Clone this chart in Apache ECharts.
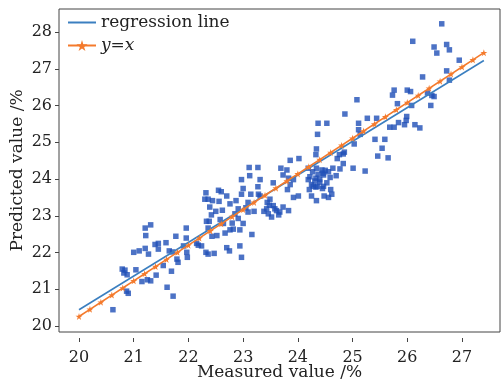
<!DOCTYPE html>
<html>
<head>
<meta charset="utf-8">
<script src="https://cdn.jsdelivr.net/npm/echarts@6/dist/echarts.min.js"></script>
<style>html,body{margin:0;padding:0;background:#fff;}#c{width:502px;height:386px;}</style>
</head>
<body>
<div id="c"></div>
<script>
// Scatter: measured (x) vs predicted (y)
var measured = [
20.62,20.79,20.82,20.88,20.84,20.87,20.90,21.04,21.15,21.25,21.31,21.41,21.54,21.61,21.72,21.00,21.10,21.21,21.27,21.21,21.31,21.22,21.39,21.45,21.45,21.59,21.65,21.71,21.77,21.79,21.81,21.69,
21.91,21.96,21.96,21.97,21.98,22.15,22.18,22.24,22.32,22.30,22.36,22.44,22.39,22.50,22.33,22.38,22.36,22.43,22.32,22.36,22.47,22.55,22.52,22.64,22.67,22.76,22.70,22.75,22.94,22.97,22.60,22.70,22.56,22.76,22.87,22.91,22.85,22.91,23.00,22.82,22.94,23.16,22.97,23.00,22.97,23.09,23.09,23.27,23.14,23.28,23.11,23.27,23.12,23.31,23.31,23.44,23.49,23.55,23.43,23.46,23.52,23.61,23.67,23.73,23.83,23.81,23.92,24.01,23.69,23.80,23.86,24.02,23.92,23.86,
24.37,24.53,24.36,24.34,24.33,24.19,24.27,24.34,24.44,24.37,24.47,24.56,24.64,24.19,24.25,24.28,24.33,24.40,24.47,24.53,24.62,24.48,24.21,24.33,24.60,24.25,24.34,24.56,24.59,24.77,24.76,24.85,24.83,25.01,25.23,24.72,24.83,25.03,24.86,25.08,25.11,25.27,25.44,25.11,25.14,25.41,25.59,25.54,25.46,25.65,23.55,23.73,23.83,
25.68,25.76,25.84,25.95,26.14,26.23,25.99,25.98,25.82,26.08,26.43,25.76,25.73,26.00,26.06,26.37,26.45,26.49,26.28,26.72,26.77,26.95,26.72,26.77,26.49,26.54,26.10,26.63,
22.42,22.58,22.62,22.80,23.05,23.20,23.38,23.58,23.65,23.48,24.40,24.45,24.36,24.22,24.46,24.31,24.50,24.70
];
var predicted = [
20.19,21.33,21.22,21.17,21.30,20.71,20.65,21.31,20.98,21.03,21.00,21.16,21.43,20.82,20.57,21.80,21.84,21.91,21.75,22.48,22.57,22.27,22.02,22.05,21.89,22.07,21.84,21.81,22.25,21.61,21.52,21.27,
21.98,22.48,22.20,21.80,21.66,22.05,22.00,21.98,23.47,23.29,23.29,23.25,23.07,22.95,22.67,22.67,22.48,22.25,21.80,21.75,21.77,23.54,22.27,22.61,22.34,22.43,21.93,21.84,21.98,21.66,23.50,23.38,23.23,23.16,23.25,23.02,22.88,22.75,22.61,22.45,22.43,22.30,23.84,23.59,23.43,23.20,22.93,23.64,23.43,23.43,24.18,24.18,23.95,23.84,23.38,23.20,23.29,23.11,23.02,22.88,22.79,22.97,22.93,23.07,22.97,23.56,23.34,23.38,24.16,24.11,24.38,24.43,23.84,23.70,
25.42,25.42,25.11,24.70,24.54,24.16,24.06,24.16,24.11,23.99,23.97,24.06,24.16,23.84,23.70,23.65,23.88,23.84,23.65,23.75,23.43,23.38,23.56,23.63,23.56,23.38,23.25,23.34,23.90,24.14,24.54,24.61,24.29,24.16,24.08,24.43,24.56,24.84,25.68,26.08,25.42,25.56,25.56,25.24,25.11,24.97,24.97,24.72,24.50,24.45,23.75,23.97,23.88,
25.31,25.31,25.44,25.38,25.38,25.29,25.61,25.50,25.97,25.92,25.92,26.35,26.21,26.35,26.31,26.27,26.20,26.17,26.72,26.89,26.63,27.19,27.63,27.48,27.56,27.39,27.72,28.21,
22.85,22.72,22.98,22.62,23.05,22.95,22.95,23.02,22.85,23.12,23.77,23.59,23.65,23.92,24.02,23.80,24.10,23.95
];
// Regression line end points
var regX = [20, 27.4];
var regY = [20.19, 27.18];
// y = x reference line marker positions
var refX = [20,20.2,20.4,20.6,20.8,21,21.2,21.4,21.6,21.8,22,22.2,22.4,22.6,22.8,23,23.2,23.4,23.6,23.8,24,24.2,24.4,24.6,24.8,25,25.2,25.4,25.6,25.8,26,26.2,26.4,26.6,26.8,27,27.2,27.4];
var refY = [20,20.2,20.4,20.6,20.8,21,21.2,21.4,21.6,21.8,22,22.2,22.4,22.6,22.8,23,23.2,23.4,23.6,23.8,24,24.2,24.4,24.6,24.8,25,25.2,25.4,25.6,25.8,26,26.2,26.4,26.6,26.8,27,27.2,27.4];
// Tick labels
var xTicks = [20,21,22,23,24,25,26,27];
var yTicks = [20,21,22,23,24,25,26,27,28];

var FONT = 'DejaVu Serif';
var TXT = '#222';
var scatterData = measured.map(function(v,i){return [v, predicted[i]];});
var regData = regX.map(function(v,i){return [v, regY[i]];});
var refData = refX.map(function(v,i){return [v, refY[i]];});

var chart = echarts.init(document.getElementById('c'), null, {renderer:'canvas'});
chart.setOption({
  animation:false,
  backgroundColor:'#fff',
  grid:[
    {left:59, right:2, top:9, bottom:44, show:true, borderColor:'#444', borderWidth:1, backgroundColor:'transparent'},
    {left:79, right:40, top:9, bottom:44},
    {left:59, right:2, top:32, bottom:60}
  ],
  legend:{
    orient:'vertical', left:67, top:14, padding:0, itemGap:6,
    itemWidth:28, itemHeight:14, itemTextGap:10,
    textStyle:{fontFamily:FONT, fontSize:17, color:TXT},
    data:[{name:'regression line', itemStyle:{opacity:0}},{name:'y=x', textStyle:{fontStyle:'italic'}}]
  },
  xAxis:[
    {gridIndex:0, type:'value', min:19.6344, max:27.695,
     axisLine:{show:false}, axisTick:{show:false}, axisLabel:{show:false}, splitLine:{show:false},
     name:'Measured value /%', nameLocation:'middle', nameGap:32,
     nameTextStyle:{fontFamily:FONT, fontSize:17, color:TXT}},
    {gridIndex:1, type:'value', min:xTicks[0], max:xTicks[xTicks.length-1], interval:1,
     axisLine:{show:false}, axisTick:{show:true, inside:true, length:4, lineStyle:{color:'#444'}},
     axisLabel:{show:true, margin:8, fontFamily:FONT, fontSize:16, color:TXT}, splitLine:{show:false}},
    {gridIndex:2, type:'value', show:false, min:0, max:1}
  ],
  yAxis:[
    {gridIndex:0, type:'value', min:19.5646, max:28.626,
     axisLine:{show:false}, axisTick:{show:false}, axisLabel:{show:false}, splitLine:{show:false},
     name:'Predicted value /%', nameLocation:'middle', nameGap:33,
     nameTextStyle:{fontFamily:FONT, fontSize:17, color:TXT}},
    {gridIndex:1, type:'value', show:false, min:0, max:1},
    {gridIndex:2, type:'value', min:yTicks[0], max:yTicks[yTicks.length-1], interval:1,
     axisLine:{show:false}, axisTick:{show:true, inside:false, length:4, lineStyle:{color:'#444'}},
     axisLabel:{show:true, margin:7, fontFamily:FONT, fontSize:16, color:TXT}, splitLine:{show:false}}
  ],
  series:[
    {type:'scatter', name:'data', xAxisIndex:0, yAxisIndex:0, data:scatterData,
     symbol:'rect', symbolSize:5.5, itemStyle:{color:'#1f4fb6'}},
    {type:'line', name:'regression line', xAxisIndex:0, yAxisIndex:0, data:regData,
     symbol:'none', lineStyle:{color:'#3b7fc0', width:1.6}, itemStyle:{color:'#3b7fc0', opacity:0}},
    {type:'line', name:'y=x', xAxisIndex:0, yAxisIndex:0, data:refData,
     symbol:'path://M50,0 L61,35 L98,35 L68,57 L79,91 L50,70 L21,91 L32,57 L2,35 L39,35 Z',
     symbolSize:7, showAllSymbol:true,
     lineStyle:{color:'#f47a2c', width:1.6}, itemStyle:{color:'#f47a2c'}}
  ]
});
</script>
</body>
</html>
